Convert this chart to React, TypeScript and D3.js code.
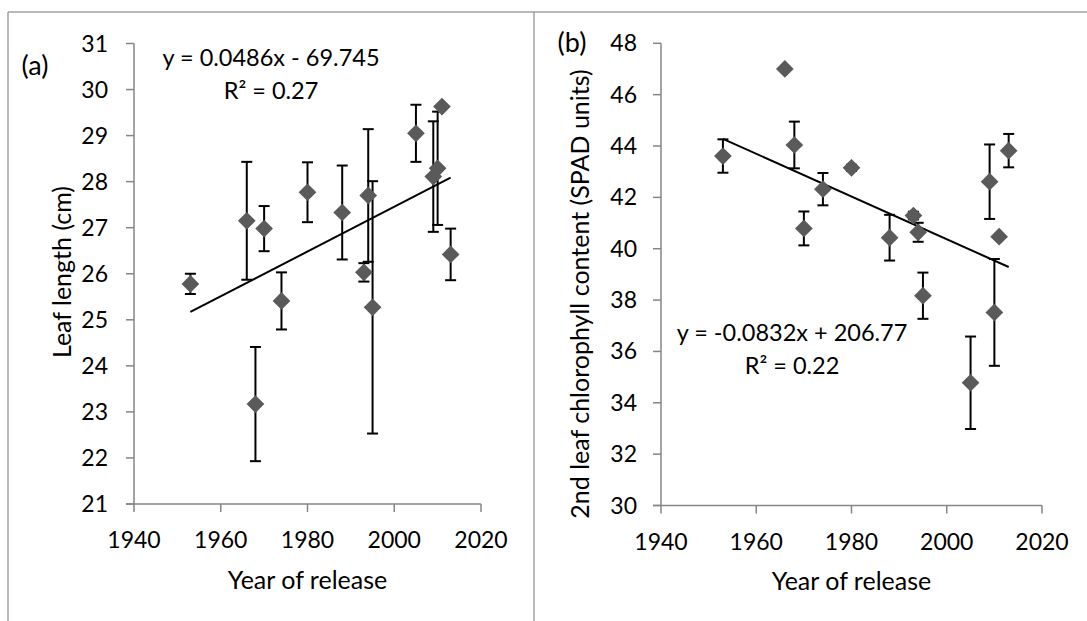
import React from "react";
import * as d3 from "d3";

const years = [1953, 1966, 1968, 1970, 1974, 1980, 1988, 1993, 1994, 1995, 2005, 2009, 2010, 2011, 2013];
const leafLength = [25.78, 27.15, 23.17, 26.98, 25.41, 27.77, 27.33, 26.03, 27.70, 25.27, 29.05, 28.11, 28.29, 29.63, 26.42];
const leafLengthErr = [0.22, 1.28, 1.24, 0.49, 0.62, 0.65, 1.02, 0.2, 1.44, 2.74, 0.62, 1.2, 1.23, 0, 0.56];
const chlorophyll = [43.61, 47.0, 44.04, 40.79, 42.32, 43.15, 40.43, 41.29, 40.64, 38.17, 34.78, 42.61, 37.52, 40.47, 43.82];
const chlorophyllErr = [0.65, 0, 0.91, 0.66, 0.63, 0.12, 0.89, 0.15, 0.37, 0.9, 1.8, 1.45, 2.08, 0, 0.65];

const xTicks = [1940, 1960, 1980, 2000, 2020];
const yTicksA = [21, 22, 23, 24, 25, 26, 27, 28, 29, 30, 31];
const yTicksB = [30, 32, 34, 36, 38, 40, 42, 44, 46, 48];

const trendA = { slope: 0.0486, intercept: -69.745, eq: "y = 0.0486x - 69.745", r2: "R² = 0.27" };
const trendB = { slope: -0.0832, intercept: 206.77, eq: "y = -0.0832x + 206.77", r2: "R² = 0.22" };

const FONT = "Lato, 'Open Sans', sans-serif";
const AXIS = "#868686";
const MARK = "#5a5a5a";

type PanelProps = {
  xRange: [number, number];
  yRange: [number, number];
  yDomain: [number, number];
  yTicks: number[];
  values: number[];
  errs: number[];
  trend: { slope: number; intercept: number; eq: string; r2: string };
  eqPos: [number, number];
  label: string;
  labelPos: [number, number];
  yTitle: string;
  yTitlePos: [number, number];
  labelGap: number;
};

function Panel(p: PanelProps) {
  const x = d3.scaleLinear().domain([1940, 2020]).range(p.xRange);
  const y = d3.scaleLinear().domain(p.yDomain).range(p.yRange);
  const x0 = p.xRange[0];
  const y0 = p.yRange[0];
  const xMin = d3.min(years)!;
  const xMax = d3.max(years)!;
  const tv = (yr: number) => p.trend.slope * yr + p.trend.intercept;
  const diamond = d3.symbol().type(d3.symbolDiamond2).size(200)();
  const cap = 5.5;
  const midX = (p.xRange[0] + p.xRange[1]) / 2;
  return (
    <g fontFamily={FONT} fill="#000">
      <line x1={x0} x2={x0} y1={y0} y2={p.yRange[1]} stroke={AXIS} strokeWidth={1.5} />
      <line x1={x0 - 8} x2={p.xRange[1]} y1={y0} y2={y0} stroke={AXIS} strokeWidth={1.5} />
      {p.yTicks.map((t) => (
        <g key={"y" + t}>
          <line x1={x0 - 8} x2={x0} y1={y(t)} y2={y(t)} stroke={AXIS} strokeWidth={1.5} />
          <text x={x0 - p.labelGap} y={y(t)} dy="0.35em" textAnchor="end" fontSize={23}>
            {t}
          </text>
        </g>
      ))}
      {xTicks.map((t) => (
        <g key={"x" + t}>
          <line x1={x(t)} x2={x(t)} y1={y0} y2={y0 + 8} stroke={AXIS} strokeWidth={1.5} />
          <text x={x(t)} y={y0 + 36} dy="0.35em" textAnchor="middle" fontSize={23}>
            {t}
          </text>
        </g>
      ))}
      <text x={midX} y={y0 + 76} dy="0.35em" textAnchor="middle" fontSize={25}>
        Year of release
      </text>
      <text
        transform={`translate(${p.yTitlePos[0]},${p.yTitlePos[1]}) rotate(-90)`}
        dy="0.35em"
        textAnchor="middle"
        fontSize={25}
      >
        {p.yTitle}
      </text>
      <text x={p.labelPos[0]} y={p.labelPos[1]} dy="0.35em" textAnchor="middle" fontSize={27}>
        {p.label}
      </text>
      {years.map((yr, i) =>
        p.errs[i] > 0 ? (
          <g key={"e" + i} stroke="#000" strokeWidth={2}>
            <line x1={x(yr)} x2={x(yr)} y1={y(p.values[i] - p.errs[i])} y2={y(p.values[i] + p.errs[i])} />
            <line x1={x(yr) - cap} x2={x(yr) + cap} y1={y(p.values[i] + p.errs[i])} y2={y(p.values[i] + p.errs[i])} />
            <line x1={x(yr) - cap} x2={x(yr) + cap} y1={y(p.values[i] - p.errs[i])} y2={y(p.values[i] - p.errs[i])} />
          </g>
        ) : null
      )}
      <line x1={x(xMin)} y1={y(tv(xMin))} x2={x(xMax)} y2={y(tv(xMax))} stroke="#000" strokeWidth={2} />
      {years.map((yr, i) => (
        <path key={"m" + i} d={diamond!} transform={`translate(${x(yr)},${y(p.values[i])})`} fill={MARK} />
      ))}
      <text x={p.eqPos[0]} y={p.eqPos[1]} dy="0.35em" textAnchor="middle" fontSize={23.5}>
        {p.trend.eq}
      </text>
      <text x={p.eqPos[0]} y={p.eqPos[1] + 33} dy="0.35em" textAnchor="middle" fontSize={23.5}>
        {p.trend.r2}
      </text>
    </g>
  );
}

export default function App() {
  return (
    <svg
      width={1087}
      height={621}
      style={{ position: "absolute", left: 0, top: 0, background: "#fff" }}
    >
      <rect x={0} y={0} width={1087} height={621} fill="#fff" />
      <line x1={8} x2={1087} y1={12} y2={12} stroke="#a0a0a0" strokeWidth={1.5} />
      <line x1={8} x2={8} y1={12} y2={621} stroke="#a0a0a0" strokeWidth={1.5} />
      <line x1={534} x2={534} y1={12} y2={621} stroke="#a0a0a0" strokeWidth={1.5} />
      <Panel
        xRange={[134, 481]}
        yRange={[504, 43.5]}
        yDomain={[21, 31]}
        yTicks={yTicksA}
        values={leafLength}
        errs={leafLengthErr}
        trend={trendA}
        eqPos={[271, 58]}
        label="(a)"
        labelPos={[35, 66]}
        yTitle="Leaf length (cm)"
        yTitlePos={[62, 272]}
        labelGap={26}
      />
      <Panel
        xRange={[661, 1042]}
        yRange={[505.5, 43.3]}
        yDomain={[30, 48]}
        yTicks={yTicksB}
        values={chlorophyll}
        errs={chlorophyllErr}
        trend={trendB}
        eqPos={[792, 333]}
        label="(b)"
        labelPos={[572, 43]}
        yTitle="2nd leaf chlorophyll content (SPAD units)"
        yTitlePos={[580, 294]}
        labelGap={24}
      />
    </svg>
  );
}
